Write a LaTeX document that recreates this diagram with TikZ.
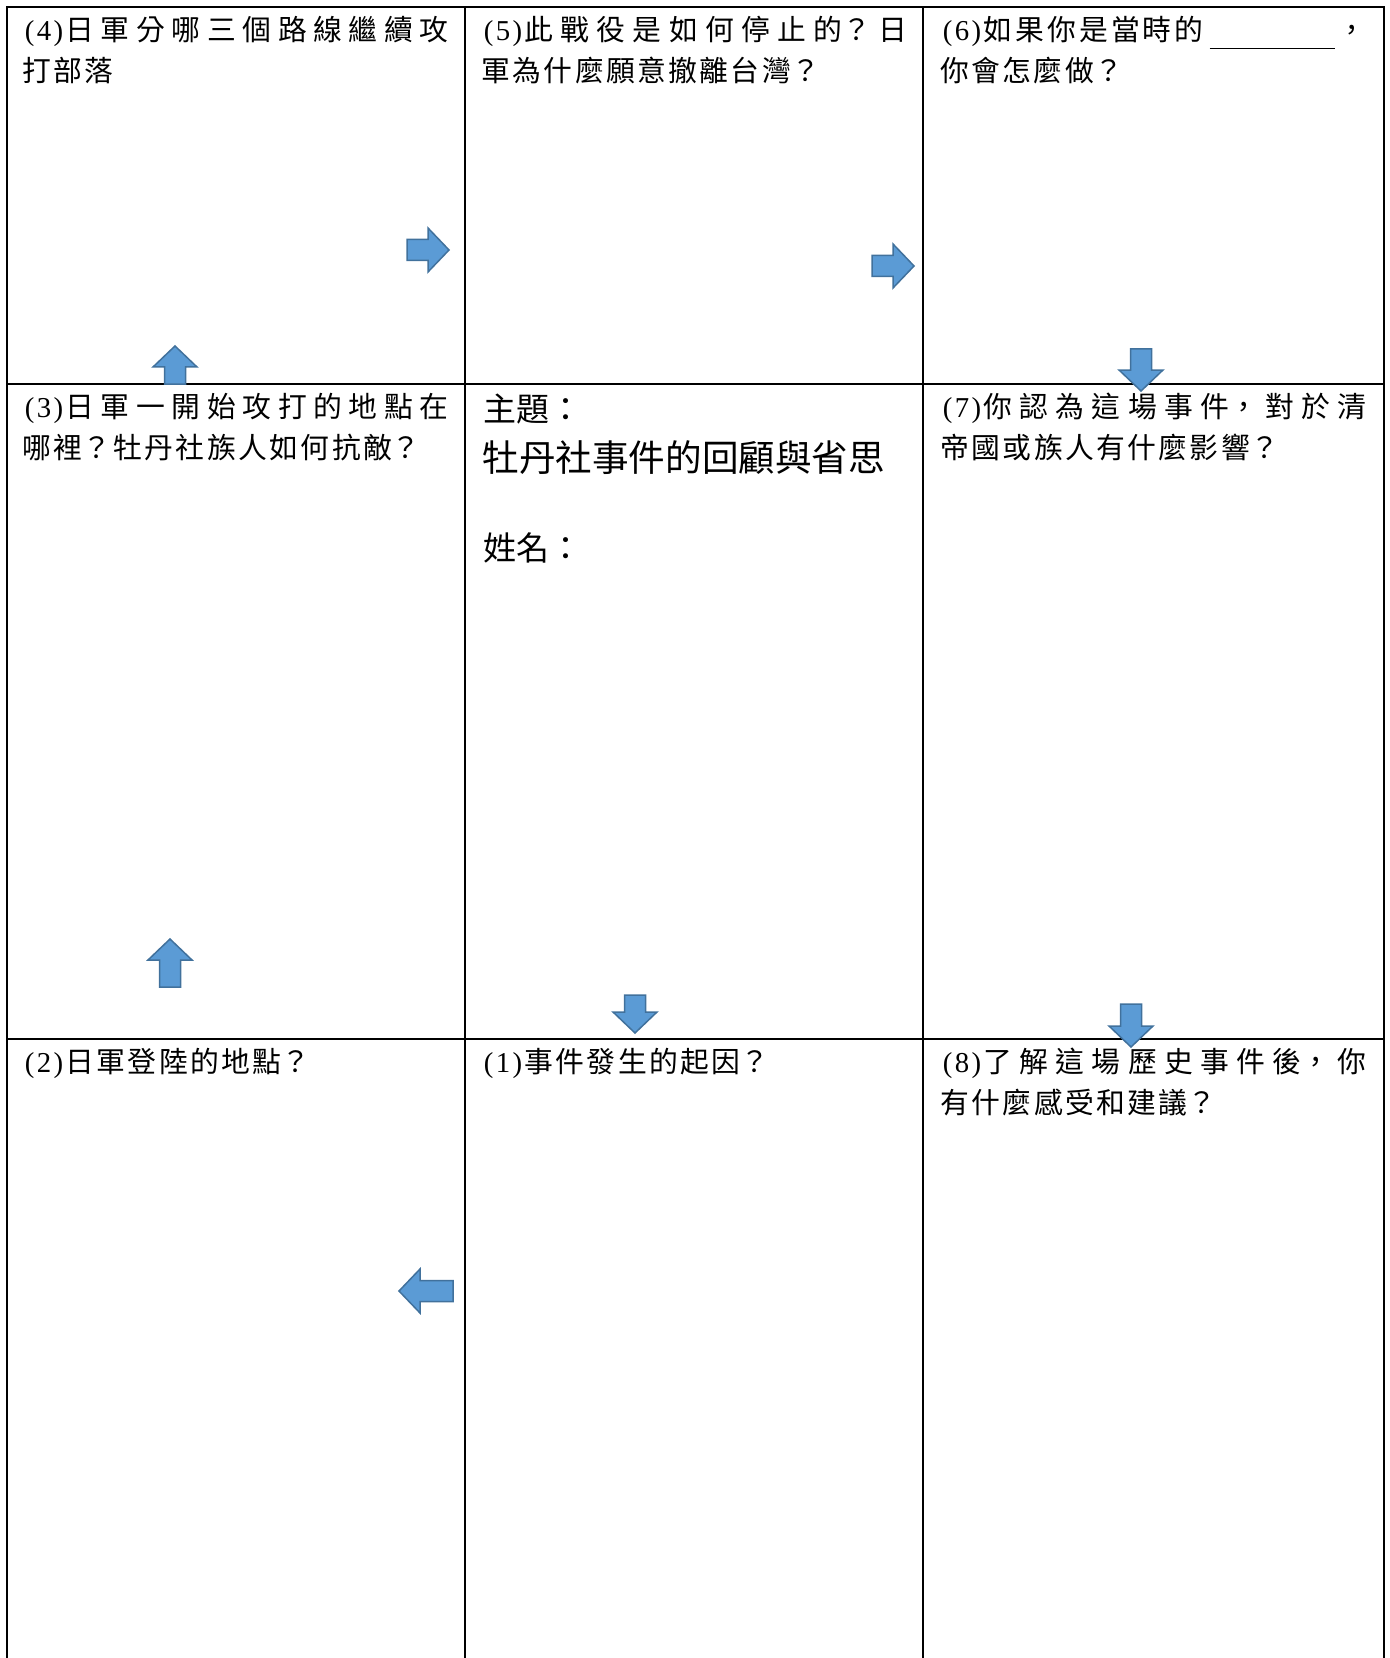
\documentclass[tikz,border=0pt]{standalone}
\usepackage{fontspec}
\setmainfont{Liberation Serif}
\newfontfamily\cjk{Noto Sans CJK TC}
\XeTeXlinebreaklocale "zh"
\XeTeXlinebreakskip=1.2pt plus 10pt
\definecolor{arrowblue}{HTML}{5B9BD5}
\definecolor{arrowedge}{HTML}{41719C}
\newcommand{\qno}[1]{{\rmfamily\makebox[0.5em]{(}\makebox[0.5em]{#1}\makebox[0.5em]{)}}}
% block arrow: tip, direction, length
\newcommand{\blockarrow}[3]{\draw[flowarrow, shift={#1}, rotate=#2] (0,0) -- (-21,-22) -- (-21,-10.5) -- (-#3,-10.5) -- (-#3,10.5) -- (-21,10.5) -- (-21,22) -- cycle;}

\begin{document}
\begin{tikzpicture}[x=0.5pt, y=-0.5pt,
	gridline/.style={line width=1.25pt, line cap=rect},
	cell/.style={anchor=base west, inner sep=0pt, text width=213pt, align=justify, font=\cjk\fontsize{14.4}{20.5}\selectfont},
	flowarrow/.style={fill=arrowblue, draw=arrowedge, line width=0.75pt}]
	\useasboundingbox (0,0) rectangle (1389,1658);

	\foreach \xx in {7,465,923,1384} \draw[gridline] (\xx,7) -- (\xx,1658);
	\foreach \yy in {7,384,1039} \draw[gridline] (7,\yy) -- (1384,\yy);

	\node[cell] (q4) at (22,41) {\qno{4}日軍分哪三個路線繼續攻\linebreak 打部落};
	\node[cell] (q5) at (481,41) {\qno{5}此戰役是如何停止的？日\linebreak 軍為什麼願意撤離台灣？};
	\node[cell] (q6) at (940,41) {\qno{6}如果你是當時的\hspace{3pt}\rule[-4pt]{62.5pt}{0.65pt}\hspace{1.5pt}，\linebreak 你會怎麼做？};
	\node[cell] (q3) at (22,417) {\qno{3}日軍一開始攻打的地點在\linebreak 哪裡？牡丹社族人如何抗敵？};
	\node[cell] (q7) at (940,417) {\qno{7}你認為這場事件，對於清\linebreak 帝國或族人有什麼影響？};
	\node[cell] (q2) at (22,1072) {\qno{2}日軍登陸的地點？};
	\node[cell] (q1) at (481,1072) {\qno{1}事件發生的起因？};
	\node[cell] (q8) at (940,1072) {\qno{8}了解這場歷史事件後，你\linebreak 有什麼感受和建議？};

	\node[anchor=base west, inner sep=0pt, font=\cjk\fontsize{16.5}{20}\selectfont] (theme) at (483,421) {主題：};
	\node[anchor=base west, inner sep=0pt, font=\cjk\fontsize{18.3}{22}\selectfont] (title) at (482,471) {牡丹社事件的回顧與省思};
	\node[anchor=base west, inner sep=0pt, font=\cjk\fontsize{16.5}{20}\selectfont] (name) at (483,560) {姓名：};

	\blockarrow{(449,250)}{0}{42}
	\blockarrow{(914,266)}{0}{42}
	\blockarrow{(175,346)}{90}{38}
	\blockarrow{(1141,391)}{-90}{42}
	\blockarrow{(170,939)}{90}{48}
	\blockarrow{(635,1033)}{-90}{38}
	\blockarrow{(1131,1047)}{-90}{43}
	\blockarrow{(399,1291)}{180}{54}
\end{tikzpicture}
\end{document}
